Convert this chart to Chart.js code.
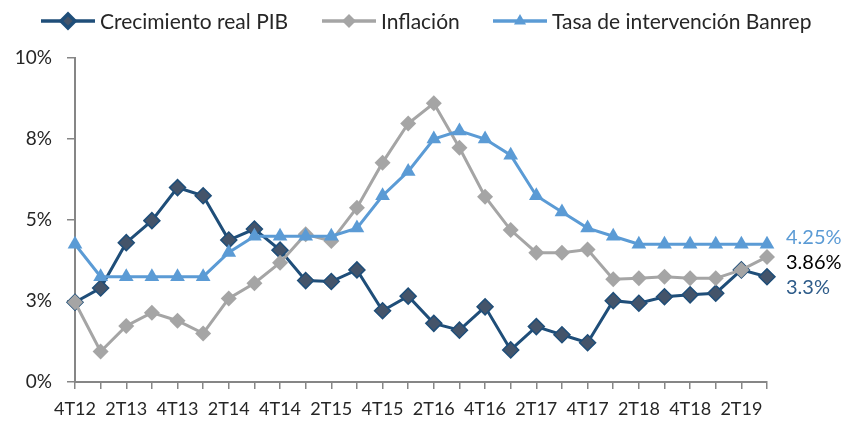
<!DOCTYPE html>
<html>
<head>
<meta charset="utf-8">
<script src="https://cdn.jsdelivr.net/npm/chart.js@4/dist/chart.umd.min.js"></script>
<style>
  html, body { margin: 0; padding: 0; background: #fff; }
  #wrap { width: 846px; height: 424px; position: relative; }
</style>
</head>
<body>
<div id="wrap"><canvas id="chart"></canvas></div>
<script>
const quarters = ['4T12', '1T13', '2T13', '3T13', '4T13', '1T14', '2T14', '3T14', '4T14',
  '1T15', '2T15', '3T15', '4T15', '1T16', '2T16', '3T16', '4T16', '1T17', '2T17', '3T17',
  '4T17', '1T18', '2T18', '3T18', '4T18', '1T19', '2T19', '3T19'];

const pib = [2.46, 2.9, 4.3, 4.98, 6.0, 5.75, 4.38, 4.72, 4.07, 3.13, 3.1, 3.46, 2.2, 2.65,
  1.81, 1.6, 2.32, 0.99, 1.71, 1.46, 1.21, 2.51, 2.43, 2.63, 2.69, 2.74, 3.46, 3.25];
const inflacion = [2.46, 0.94, 1.73, 2.14, 1.89, 1.5, 2.58, 3.05, 3.68, 4.56, 4.35, 5.38, 6.77, 7.98,
  8.6, 7.23, 5.72, 4.69, 3.99, 3.99, 4.09, 3.17, 3.2, 3.25, 3.2, 3.2, 3.46, 3.86];
const banrep = [4.25, 3.25, 3.25, 3.25, 3.25, 3.25, 4.0, 4.5, 4.5, 4.5, 4.5, 4.75, 5.75, 6.5,
  7.5, 7.75, 7.5, 7.0, 5.75, 5.25, 4.75, 4.5, 4.25, 4.25, 4.25, 4.25, 4.25, 4.25];

const seriesNames = ['Crecimiento real PIB', 'Inflación', 'Tasa de intervención Banrep'];
const endLabels   = ['3.3%', '3.86%', '4.25%'];

const FONT = 'Lato, "Open Sans", sans-serif';
const AXIS = '#868686';

// legend drawn by hand: line + marker, like the spreadsheet one
const legendPlugin = {
  id: 'lineLegend',
  afterDraw(chart) {
    const ctx = chart.ctx;
    const starts = [41, 322, 493];
    ctx.save();
    chart.data.datasets.forEach((ds, i) => {
      const x0 = starts[i], y = 21;
      ctx.strokeStyle = ds.borderColor;
      ctx.lineWidth = 3.5;
      ctx.beginPath();
      ctx.moveTo(x0, y);
      ctx.lineTo(x0 + 54, y);
      ctx.stroke();
      ctx.fillStyle = ds.pointBackgroundColor;
      ctx.strokeStyle = ds.pointBorderColor;
      Chart.helpers.drawPoint(ctx, {
        pointStyle: ds.pointStyle, radius: 7, rotation: 0, borderWidth: ds.pointBorderWidth
      }, x0 + 27, y);
      ctx.fillStyle = '#262626';
      ctx.font = '21px ' + FONT;
      ctx.textBaseline = 'middle';
      ctx.textAlign = 'left';
      ctx.fillText(ds.label, x0 + 59, y + 1);
    });
    ctx.restore();
  }
};

// value tags at the right end of each line
const endLabelPlugin = {
  id: 'endLabels',
  afterDatasetsDraw(chart) {
    const ctx = chart.ctx;
    const ys = chart.scales.y;
    const x = 786;
    const shifts = [11, 6, -7];
    const colors = ['#2E5C8A', '#000000', '#5B9BD5'];
    ctx.save();
    ctx.font = '20px ' + FONT;
    ctx.textBaseline = 'middle';
    ctx.textAlign = 'left';
    chart.data.datasets.forEach((ds, i) => {
      const v = ds.data[ds.data.length - 1];
      ctx.fillStyle = colors[i];
      ctx.fillText(endLabels[i], x, ys.getPixelForValue(v) + shifts[i]);
    });
    ctx.restore();
  }
};

new Chart(document.getElementById('chart'), {
  type: 'line',
  data: {
    labels: quarters,
    datasets: [
      {
        label: seriesNames[0],
        data: pib,
        borderColor: '#1F4E79',
        borderWidth: 3,
        pointStyle: 'rectRot',
        pointRadius: 8,
        pointBackgroundColor: '#44546A',
        pointBorderColor: '#1F4E79',
        pointBorderWidth: 1.5,
        order: 3,
      },
      {
        label: seriesNames[1],
        data: inflacion,
        borderColor: '#A5A5A5',
        borderWidth: 3,
        pointStyle: 'rectRot',
        pointRadius: 8,
        pointBackgroundColor: '#A5A5A5',
        pointBorderColor: '#A5A5A5',
        pointBorderWidth: 0,
        order: 2,
      },
      {
        label: seriesNames[2],
        data: banrep,
        borderColor: '#5B9BD5',
        borderWidth: 3,
        pointStyle: 'triangle',
        pointRadius: 8.5,
        pointBackgroundColor: '#5B9BD5',
        pointBorderColor: '#5B9BD5',
        pointBorderWidth: 0,
        order: 1,
      },
    ],
  },
  options: {
    responsive: true,
    maintainAspectRatio: false,
    animation: false,
    layout: { padding: { top: 58, right: 79, left: 0, bottom: 0 } },
    plugins: {
      legend: { display: false },
      tooltip: { enabled: false },
    },
    scales: {
      x: {
        offset: false,
        afterFit: s => { s.height = 42; },
        grid: { drawOnChartArea: false, drawTicks: true, tickLength: 7, color: AXIS, lineWidth: 1.5 },
        border: { color: AXIS, width: 2 },
        ticks: {
          autoSkip: false, maxRotation: 0, padding: 9,
          color: '#262626', font: { family: FONT, size: 18 },
          callback: (v, i) => i % 2 === 0 ? quarters[i] : '',
        },
      },
      y: {
        min: 0, max: 10,
        afterFit: s => { s.width = 75; },
        grid: { drawOnChartArea: false, drawTicks: true, tickLength: 8, color: AXIS, lineWidth: 1.5 },
        border: { color: AXIS, width: 2 },
        ticks: {
          stepSize: 2.5, padding: 15,
          color: '#262626', font: { family: FONT, size: 19 },
          callback: v => Math.round(v) + '%',
        },
      },
    },
  },
  plugins: [legendPlugin, endLabelPlugin],
});
</script>
</body>
</html>
